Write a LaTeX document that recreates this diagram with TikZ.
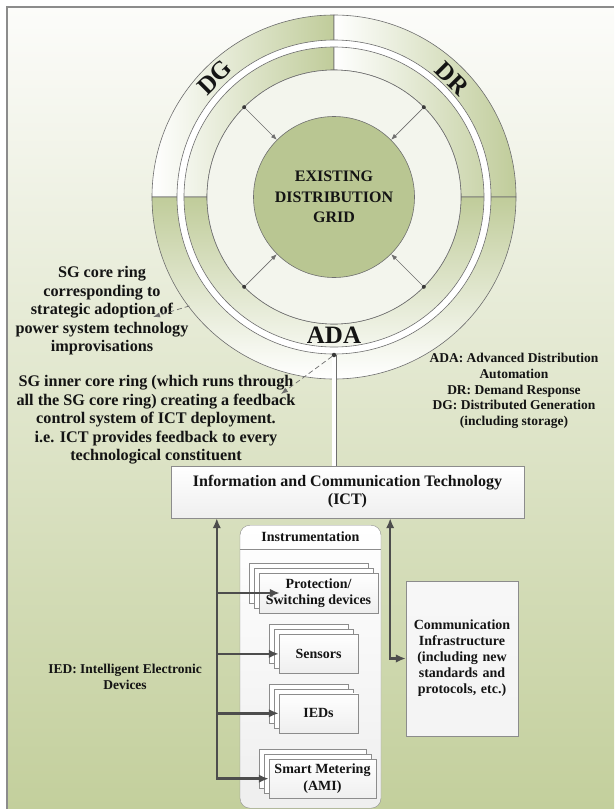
\documentclass[tikz,border=0pt]{standalone}
\usepackage{fontspec}
\setmainfont{Liberation Serif}
\usepackage{xcolor}
\usetikzlibrary{shapes,arrows,arrows.meta,positioning,calc,shadows}

\definecolor{ringgreen}{HTML}{C0CC9A}
\definecolor{gridgreen}{HTML}{B9C692}
\definecolor{innerfill}{HTML}{F3F5ED}
\definecolor{bgtop}{HTML}{FCFCFA}
\definecolor{bgbottom}{HTML}{C3CF9C}
\definecolor{edgegray}{HTML}{6E6E6E}
\definecolor{boxgray}{HTML}{8C8C8C}
\definecolor{dotgray}{HTML}{3A3A3A}
\definecolor{flowgray}{HTML}{4D4D4D}
\definecolor{textblack}{HTML}{141414}

\begin{document}
\begin{tikzpicture}[x=1pt, y=1pt, text=textblack,
    box/.style={rectangle, draw=boxgray, top color=white, bottom color=gray!13, align=center, inner sep=2pt, font=\bfseries\fontsize{14}{16.5}\selectfont},
    stackbox/.style={box, minimum height=39pt,
        copy shadow={shadow xshift=-10pt, shadow yshift=10pt, fill=white, draw=boxgray},
        copy shadow={shadow xshift=-5pt, shadow yshift=5pt, fill=white, draw=boxgray}},
    note/.style={align=center, font=\bfseries\fontsize{16.2}{18.5}\selectfont},
    legend/.style={align=center, font=\bfseries\fontsize{13.5}{15.8}\selectfont},
    ringlabel/.style={font=\bfseries\fontsize{25}{25}\selectfont},
    segment/.style={draw=edgegray, line width=0.6pt},
    dot/.style={circle, fill=dotgray, inner sep=0pt, minimum size=4.5pt},
    flow/.style={draw=flowgray, line width=2.5pt, >={Latex[length=10pt, width=8.5pt]}},
    pointer/.style={draw=edgegray, line width=0.7pt, >={Latex[length=6pt, width=4.5pt]}},
    leader/.style={draw=edgegray, line width=0.7pt, dash pattern=on 5pt off 3pt, >={Latex[length=7pt, width=5pt]}}]

    \useasboundingbox (0,0) rectangle (614,-809);

    % Background
    \shade[top color=bgtop, bottom color=bgbottom] (7,-7) rectangle (614,-809);
    \draw[boxgray, line width=1.5pt] (7,-809) -- (7,-7) -- (614,-7);

    % Core rings - DG, DR, ADA
    \coordinate (ringc) at (334,-197);
    \shadedraw[segment, left color=white, right color=ringgreen]
        ($(ringc)+(90:182)$) arc[start angle=90, end angle=180, radius=182]
        -- ($(ringc)+(180:127)$) arc[start angle=180, end angle=90, radius=127] -- cycle;
    \shadedraw[segment, left color=white, right color=ringgreen]
        ($(ringc)+(0:182)$) arc[start angle=0, end angle=90, radius=182]
        -- ($(ringc)+(90:127)$) arc[start angle=90, end angle=0, radius=127] -- cycle;
    \shadedraw[segment, top color=ringgreen, bottom color=white]
        ($(ringc)+(180:182)$) arc[start angle=180, end angle=360, radius=182]
        -- ($(ringc)+(360:127)$) arc[start angle=360, end angle=180, radius=127] -- cycle;

    % Inner core ring (ICT feedback)
    \filldraw[segment, fill=white, even odd rule] (ringc) circle[radius=157] (ringc) circle[radius=150];
    \filldraw[segment, fill=innerfill] (ringc) circle[radius=127];

    % Existing grid
    \node[circle, draw=edgegray, line width=0.6pt, fill=gridgreen, minimum size=161pt, align=center,
        font=\bfseries\fontsize{16}{20.5}\selectfont] (grid) at (ringc) {EXISTING\\DISTRIBUTION\\GRID};

    \foreach \a in {45,135,225,315} {
        \node[dot, minimum size=4pt] (d\a) at ($(ringc)+(\a:127)$) {};
        \draw[pointer,->] (d\a) -- (grid.\a);
    }

    \node[ringlabel, rotate=45] (dglabel) at ($(ringc)+(135:169)$) {DG};
    \node[ringlabel, rotate=-45] (drlabel) at ($(ringc)+(45:167)$) {DR};
    \node[ringlabel] (adalabel) at ($(ringc)+(270:138)$) {ADA};

    % Notes
    \node[note] (corenote) at (102,-311) {SG core ring\\corresponding to\\strategic adoption of\\power system technology\\improvisations};
    \node[note] (innernote) at (156,-420) {SG inner core ring (which runs through\\all the SG core ring) creating a feedback\\control system of ICT deployment.\\i.e. ICT provides feedback to every\\technological constituent};
    \node[legend] (legend) at (514,-391) {ADA: Advanced Distribution\\Automation\\DR: Demand Response\\DG: Distributed Generation\\(including storage)};
    \node[legend] (iednote) at (125,-677) {IED: Intelligent Electronic\\Devices};

    % ICT
    \node[box, minimum width=353pt, minimum height=52pt, font=\bfseries\fontsize{16}{18}\selectfont] (ict) at (347.5,-492)
        {Information and Communication Technology\\(ICT)};

    \coordinate (tap) at ($(ringc)+(270:158)$);
    \draw[draw=edgegray, line width=0.7pt, double=white, double distance=3.6pt] (tap) -- (tap |- ict.north);
    \node[dot] (tapdot) at (tap) {};

    \coordinate (coreedge) at ($(ringc)+(217:181)$);
    \coordinate (coretip) at (153,-317);
    \coordinate (innertip) at (281,-394);
    \draw[leader,->] (coreedge) -- (coretip);
    \draw[leader,->] (tapdot) -- (innertip);

    % Instrumentation
    \node[box, rounded corners=10pt, minimum width=141pt, minimum height=283pt, anchor=north] (instr) at (310.5,-525) {};
    \node[font=\bfseries\fontsize{14}{16}\selectfont] (instrtitle) at ([yshift=-12pt]instr.north) {Instrumentation};
    \draw[boxgray] ([yshift=-24pt]instr.north west) -- ([yshift=-24pt]instr.north east);

    \node[stackbox, minimum width=119pt, minimum height=40pt] (prot) at (318.5,-593) {Protection/\\Switching devices};
    \node[stackbox, minimum width=79pt, below=21pt of prot] (sens) {Sensors};
    \node[stackbox, minimum width=79pt, below=20pt of sens] (ieds) {IEDs};
    \node[stackbox, minimum width=107pt, below=26pt of ieds, xshift=4pt] (sm) {Smart Metering\\(AMI)};

    % Communication
    \node[box, minimum width=112pt, minimum height=155pt, text width=108pt, top color=gray!6, bottom color=gray!9,
        font=\bfseries\fontsize{14}{16}\selectfont] (comm) at (462,-658.5)
        {Communication\\Infrastructure\\(including new\\standards and\\protocols, etc.)};

    % Arrows
    \coordinate (trunk) at ([xshift=46pt]ict.south west);
    \coordinate (commup) at ([xshift=-134pt]ict.south east);
    \draw[flow,<->] (trunk) |- (sm.west);
    \draw[flow,->] (trunk |- ieds.west) -- (ieds.west);
    \draw[flow,->] (trunk |- sens.west) -- (sens.west);
    \draw[flow,->] (trunk |- prot.west) -- ([xshift=21pt]prot.west);
    \draw[flow,<->] (commup) |- (comm.west);

\end{tikzpicture}
\end{document}
